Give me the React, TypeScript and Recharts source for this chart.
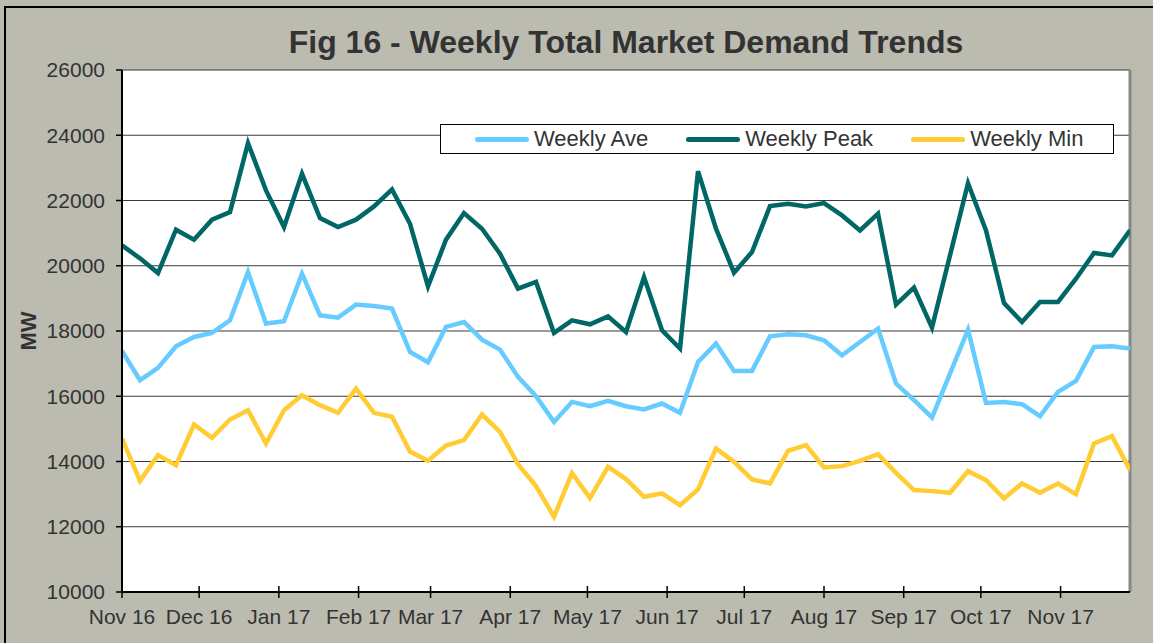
import React from 'react';
import { LineChart, Line, XAxis, YAxis, CartesianGrid, Legend, ReferenceLine } from 'recharts';

const chartTitle = 'Fig 16 - Weekly Total Market Demand Trends';
const yAxisTitle = 'MW';
const firstWeek = '2016-11-01';
const tickLabels = ['Nov 16', 'Dec 16', 'Jan 17', 'Feb 17', 'Mar 17', 'Apr 17', 'May 17', 'Jun 17', 'Jul 17', 'Aug 17', 'Sep 17', 'Oct 17', 'Nov 17'];
const tickDates = ['2016-11-01', '2016-12-01', '2017-01-01', '2017-02-01', '2017-03-01', '2017-04-01', '2017-05-01', '2017-06-01', '2017-07-01', '2017-08-01', '2017-09-01', '2017-10-01', '2017-11-01'];
const yTicks = [10000, 12000, 14000, 16000, 18000, 20000, 22000, 24000, 26000];

const weeklyAve = [17388, 16491, 16868, 17532, 17817, 17940, 18328, 19807, 18227, 18297, 19757, 18481, 18410, 18809, 18767, 18686, 17358, 17040, 18124, 18277, 17736, 17430, 16593, 16001, 15214, 15827, 15695, 15858, 15695, 15594, 15777, 15491, 17052, 17613, 16777, 16777, 17838, 17900, 17869, 17716, 17256, 17664, 18073, 16389, 15879, 15349, 16695, 18042, 15797, 15827, 15756, 15389, 16134, 16470, 17511, 17532, 17461];
const weeklyPeak = [20625, 20226, 19777, 21105, 20799, 21412, 21644, 23757, 22309, 21185, 22818, 21461, 21185, 21412, 21819, 22340, 21288, 19369, 20800, 21617, 21136, 20370, 19298, 19502, 17940, 18328, 18205, 18450, 17970, 19655, 18022, 17461, 22900, 21136, 19788, 20420, 21828, 21900, 21819, 21920, 21543, 21084, 21595, 18809, 19329, 18104, 20318, 22532, 21084, 18858, 18277, 18889, 18889, 19603, 20390, 20318, 21084];
const weeklyMin = [14706, 13408, 14195, 13889, 15134, 14726, 15287, 15573, 14553, 15573, 16032, 15726, 15491, 16236, 15491, 15369, 14307, 14021, 14490, 14654, 15440, 14910, 13919, 13246, 12306, 13643, 12877, 13837, 13460, 12919, 13021, 12664, 13143, 14399, 13990, 13450, 13327, 14328, 14502, 13817, 13858, 14021, 14225, 13653, 13123, 13092, 13041, 13705, 13429, 12868, 13327, 13041, 13327, 13001, 14552, 14776, 13735];

const seriesKeys = ['ave', 'peak', 'min'];
const seriesNames = ['Weekly Ave', 'Weekly Peak', 'Weekly Min'];
const seriesColors = ['#66CCFF', '#006666', '#FFCC33'];

const FONT = '"Liberation Sans", Arial, sans-serif';
const TEXT = '#333333';
const BG = '#BBBBB0';

const DAY = 86400000;
const dayOffset = (d: string) => Math.round((Date.parse(d) - Date.parse(firstWeek)) / DAY);
const tickDays = tickDates.map(dayOffset);
const data = weeklyAve.map((v, i) => ({ day: i * 7, ave: v, peak: weeklyPeak[i], min: weeklyMin[i] }));
const lastDay = (weeklyAve.length - 1) * 7;

const XTick = (props: any) => {
  const { x, y, payload } = props;
  const idx = tickDays.indexOf(payload.value);
  return (
    <g>
      <line x1={x} x2={x} y1={y - 6} y2={y + 6} stroke="#000" strokeWidth={1.5} />
      <text x={x} y={y + 32} textAnchor="middle" fill={TEXT} fontSize={21} fontFamily={FONT}>
        {tickLabels[idx]}
      </text>
    </g>
  );
};

const renderLegend = () => (
  <div
    style={{
      boxSizing: 'border-box',
      width: 674,
      height: 30,
      border: '1px solid #000',
      background: '#fff',
      display: 'flex',
      flexWrap: 'nowrap',
      alignItems: 'center',
      paddingLeft: 34,
      fontFamily: FONT,
      fontSize: 22,
      color: TEXT,
      whiteSpace: 'nowrap',
    }}
  >
    {seriesNames.map((n, i) => (
      <div key={n} style={{ display: 'flex', alignItems: 'center', marginRight: 38, flexShrink: 0 }}>
        <div style={{ width: 54, height: 5, borderRadius: 3, background: seriesColors[i], marginRight: 5, flexShrink: 0 }} />
        <span style={{ lineHeight: '24px', whiteSpace: 'nowrap' }}>{n}</span>
      </div>
    ))}
  </div>
);

const YLabel = (p: any) => {
  const vb = p.viewBox || { x: 0, y: 70, width: 122, height: 522 };
  const cx = 28;
  const cy = vb.y + vb.height / 2;
  return (
    <text
      x={cx}
      y={cy}
      transform={`rotate(-90 ${cx} ${cy})`}
      textAnchor="middle"
      dominantBaseline="central"
      fontWeight="bold"
      fontSize={22}
      fontFamily={FONT}
      fill={TEXT}
    >
      {yAxisTitle}
    </text>
  );
};

export default function App() {
  return (
    <div style={{ position: 'absolute', left: 0, top: 0, width: 1153, height: 643, background: BG, overflow: 'hidden' }}>
      <div style={{ position: 'absolute', left: 4, top: 6, width: 1160, height: 650, borderTop: '2px solid #000', borderLeft: '2px solid #000' }} />
      <div
        style={{
          position: 'absolute',
          left: 0,
          top: 26,
          width: 1252,
          textAlign: 'center',
          fontFamily: FONT,
          fontWeight: 'bold',
          fontSize: 32,
          lineHeight: '32px',
          color: TEXT,
          whiteSpace: 'nowrap',
        }}
      >
        {chartTitle}
      </div>
      <div style={{ position: 'absolute', left: 0, top: 0 }}>
        <LineChart width={1153} height={643} data={data} margin={{ top: 70, right: 23, bottom: 0, left: 0 }}>
          <CartesianGrid vertical={false} stroke="#3a3a3a" strokeWidth={1.2} fill="#ffffff" horizontalValues={yTicks} />
          <XAxis
            dataKey="day"
            type="number"
            domain={[0, lastDay]}
            ticks={tickDays}
            height={51}
            tickSize={0}
            tickMargin={0}
            tickLine={false}
            axisLine={{ stroke: '#000', strokeWidth: 2 }}
            tick={<XTick />}
            interval={0}
            allowDataOverflow
          />
          <YAxis
            type="number"
            domain={[10000, 26000]}
            ticks={yTicks}
            width={122}
            tickSize={6}
            tickMargin={11}
            tickLine={{ stroke: '#000', strokeWidth: 1.5 }}
            axisLine={{ stroke: '#000', strokeWidth: 2 }}
            tick={{ fill: TEXT, fontSize: 21, fontFamily: FONT }}
            interval={0}
            label={{ content: YLabel }}
          />
          <ReferenceLine x={lastDay} stroke="#888888" strokeWidth={3} />
          {seriesKeys.map((k, i) => (
            <Line
              key={k}
              type="linear"
              dataKey={k}
              name={seriesNames[i]}
              stroke={seriesColors[i]}
              strokeWidth={4.5}
              dot={false}
              activeDot={false}
              isAnimationActive={false}
            />
          ))}
          <Legend
            layout="horizontal"
            verticalAlign="middle"
            align="center"
            wrapperStyle={{ left: 440, top: 124, width: 674, height: 30 }}
            content={renderLegend}
          />
        </LineChart>
      </div>
    </div>
  );
}
